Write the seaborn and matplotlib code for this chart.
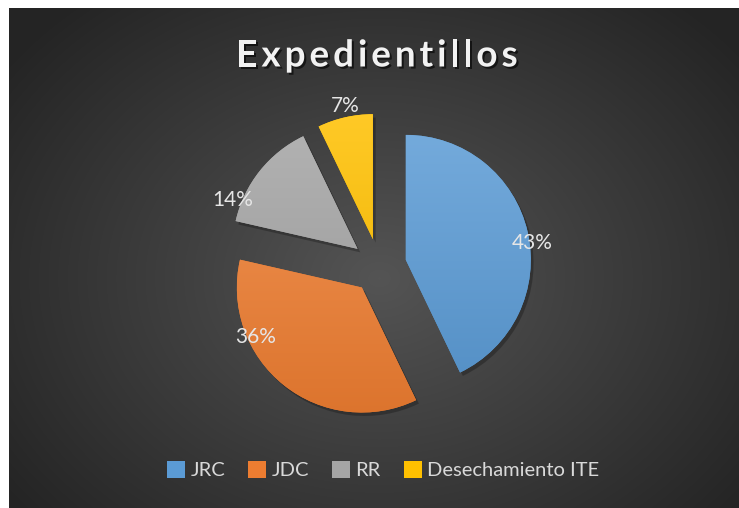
import numpy as np
import matplotlib
matplotlib.use('Agg')
import matplotlib.pyplot as plt
import matplotlib.patheffects as pe
from matplotlib.patches import Patch
import seaborn as sns

# --- data ---
categories = ['JRC', 'JDC', 'RR', 'Desechamiento ITE']
counts = [6, 5, 2, 1]
colors = ['#5B9BD5', '#ED7D31', '#A5A5A5', '#FFC000']
title = 'Expedientillos'

# where each % label sits (angle in degrees, distance in radii from its wedge centre)
label_angles = [7.6, 205, 158.6, 101.5]
label_dists = [1.02, 0.94, 1.07, 1.09]

sns.set_theme(style='white')
plt.rcParams['font.family'] = ['Lato', 'DejaVu Sans']

W, H = 739, 508
fig = plt.figure(figsize=(W / 100, H / 100), dpi=100)
fig.patch.set_facecolor('white')

# --- dark radial background panel ---
bg = fig.add_axes([9 / W, 0, (W - 9) / W, (H - 8) / H])
bg.set_axis_off()
yy, xx = np.mgrid[0:500, 0:730]
d = np.hypot((xx - 370) / 420, (yy - 270) / 330)
shade = np.clip(0.33 - 0.17 * d, 0.145, 0.33)
bg.imshow(np.dstack([shade] * 3), aspect='auto', extent=[0, 1, 0, 1])
bg.set_xlim(0, 1)
bg.set_ylim(0, 1)


def lighten(c, amt):
    r = np.array(matplotlib.colors.to_rgb(c))
    return tuple(np.clip(r + (1 - r) * amt, 0, 1))


def darken(c, amt):
    r = np.array(matplotlib.colors.to_rgb(c))
    return tuple(np.clip(r * (1 - amt), 0, 1))


# --- pie ---
cx, cy, half = 379, 266, 200
ax = fig.add_axes([(cx - half) / W, (H - cy - half) / H, 2 * half / W, 2 * half / H])
ax.set_xlim(-1.6, 1.6)
ax.set_ylim(-1.6, 1.6)
ax.set_aspect('equal')
ax.set_axis_off()

wedges, _, autotexts = ax.pie(
    counts, colors=colors, startangle=90, counterclock=False,
    explode=[0.22] * len(counts), radius=1.0,
    autopct=lambda p: f'{p:.0f}%', pctdistance=1.0,
    wedgeprops=dict(linewidth=0),
    textprops=dict(color='#e6e6e6', fontsize=15),
)

for w, col in zip(wedges, colors):
    w.set_path_effects([pe.SimplePatchShadow(offset=(2, -2.5), shadow_rgbFace='black', alpha=0.25),
                        pe.Normal()])
    # vertical gradient fill clipped to the wedge
    grad = np.linspace(0, 1, 256)[:, None]
    top, bot = np.array(lighten(col, 0.15)), np.array(darken(col, 0.07))
    img = top[None, None, :] * (1 - grad[..., None]) + bot[None, None, :] * grad[..., None]
    wx, wy = w.center
    im = ax.imshow(img, extent=[wx - 1, wx + 1, wy - 1, wy + 1], origin='upper',
                   aspect='auto', zorder=w.get_zorder() + 0.1)
    im.set_clip_path(w)

ax.set_xlim(-1.6, 1.6)
ax.set_ylim(-1.6, 1.6)

for t, w, a, dist in zip(autotexts, wedges, label_angles, label_dists):
    wx, wy = w.center
    t.set_position((wx + dist * np.cos(np.radians(a)), wy + dist * np.sin(np.radians(a))))
    t.set_ha('center')
    t.set_va('center')
    t.set_zorder(10)

# --- title (letter-spaced, laid out char by char) ---
renderer = fig.canvas.get_renderer()
title_kw = dict(fontsize=26.5, fontweight='bold', color='#f2f2f2', va='center', ha='left',
                path_effects=[pe.withSimplePatchShadow(offset=(1.5, -1.5), shadow_rgbFace='black', alpha=0.6)])
spacing = 4.0  # px between letters
widths = []
for ch in title:
    tmp = fig.text(0, 0, ch, **title_kw)
    widths.append(tmp.get_window_extent(renderer).width)
    tmp.remove()
total = sum(widths) + spacing * (len(title) - 1)
x = 377 - total / 2
for ch, wd in zip(title, widths):
    fig.text(x / W, 1 - 56 / H, ch, **title_kw)
    x += wd + spacing

# --- legend ---
handles = [Patch(facecolor=c, edgecolor='none', label=l) for c, l in zip(colors, categories)]
leg = fig.legend(handles=handles, loc='center', bbox_to_anchor=(383 / W, 1 - 470 / H), ncol=4,
                 frameon=False, fontsize=14.5, handlelength=0.9, handleheight=0.9,
                 handletextpad=0.25, columnspacing=1.15)
for txt in leg.get_texts():
    txt.set_color('#d9d9d9')

fig.savefig('out.png', dpi=100, facecolor=fig.get_facecolor())
